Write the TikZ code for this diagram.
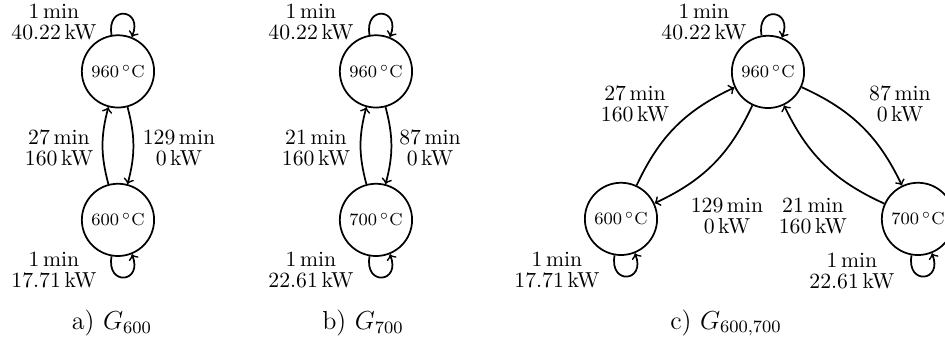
\documentclass[tikz,border=0pt]{standalone}
\tikzset{
  stato/.style={circle,draw,thick,minimum size=1.17cm,inner sep=0pt,font=\footnotesize},
  peso/.style={align=center,font=\fontsize{10pt}{9.7pt}\selectfont},
  arco/.style={->,thick},
  anellosu/.style={out=100,in=68,distance=5mm},
  anellogiu/.style={out=-100,in=-68,distance=5mm},
  didascalia/.style={font=\large},
}
\begin{document}
\begin{tikzpicture}
    \useasboundingbox (0,0) rectangle (15.30,5.60);
    % a) G_600
    \node[stato] (a960) at (1.91,4.444) {960\,$^\circ$C};
    \node[stato] (a600) at (1.91,2.040) {600\,$^\circ$C};
    \draw[arco] (a960.100) to[anellosu] (a960.68);
    \draw[arco] (a600.-100) to[anellogiu] (a600.-68);
    \draw[arco] (a600) to[bend left=15] (a960);
    \draw[arco] (a960) to[bend left=15] (a600);
    \node[peso] (la1) at (0.874,5.246) {1\,min\\40.22\,kW};
    \node[peso] (la2) at (0.874,1.230) {1\,min\\17.71\,kW};
    \node[peso] (la3) at (0.955,3.206) {27\,min\\160\,kW};
    \node[peso] (la4) at (2.898,3.206) {129\,min\\0\,kW};
    \node[didascalia] (capa) at (1.813,0.372) {a) $G_{600}$};
    % b) G_700
    \node[stato] (b960) at (6.087,4.444) {960\,$^\circ$C};
    \node[stato] (b700) at (6.087,2.040) {700\,$^\circ$C};
    \draw[arco] (b960.100) to[anellosu] (b960.68);
    \draw[arco] (b700.-100) to[anellogiu] (b700.-68);
    \draw[arco] (b700) to[bend left=15] (b960);
    \draw[arco] (b960) to[bend left=15] (b700);
    \node[peso] (lb1) at (5.035,5.246) {1\,min\\40.22\,kW};
    \node[peso] (lb2) at (5.035,1.230) {1\,min\\22.61\,kW};
    \node[peso] (lb3) at (5.116,3.206) {21\,min\\160\,kW};
    \node[peso] (lb4) at (6.962,3.206) {87\,min\\0\,kW};
    \node[didascalia] (capb) at (5.877,0.372) {b) $G_{700}$};
    % c) G_600,700
    \node[stato] (c960) at (12.434,4.436) {960\,$^\circ$C};
    \node[stato] (c600) at (10.054,2.056) {600\,$^\circ$C};
    \node[stato] (c700) at (14.862,2.056) {700\,$^\circ$C};
    \draw[arco] (c960.100) to[anellosu] (c960.68);
    \draw[arco] (c600.-100) to[anellogiu] (c600.-68);
    \draw[arco] (c700.-100) to[anellogiu] (c700.-68);
    \draw[arco] (c600) to[bend left=20] (c960);
    \draw[arco] (c960) to[bend left=20] (c600);
    \draw[arco] (c960) to[bend left=20] (c700);
    \draw[arco] (c700) to[bend left=20] (c960);
    \node[peso] (lc1) at (11.398,5.246) {1\,min\\40.22\,kW};
    \node[peso] (lc2) at (9.018,1.230) {1\,min\\17.71\,kW};
    \node[peso] (lc3) at (13.794,1.214) {1\,min\\22.61\,kW};
    \node[peso] (lc4) at (10.281,3.918) {27\,min\\160\,kW};
    \node[peso] (lc5) at (14.571,3.918) {87\,min\\0\,kW};
    \node[peso] (lc6) at (11.770,2.105) {129\,min\\0\,kW};
    \node[peso] (lc7) at (13.162,2.105) {21\,min\\160\,kW};
    \node[didascalia] (capc) at (11.754,0.372) {c) $G_{600,700}$};
\end{tikzpicture}
\end{document}
